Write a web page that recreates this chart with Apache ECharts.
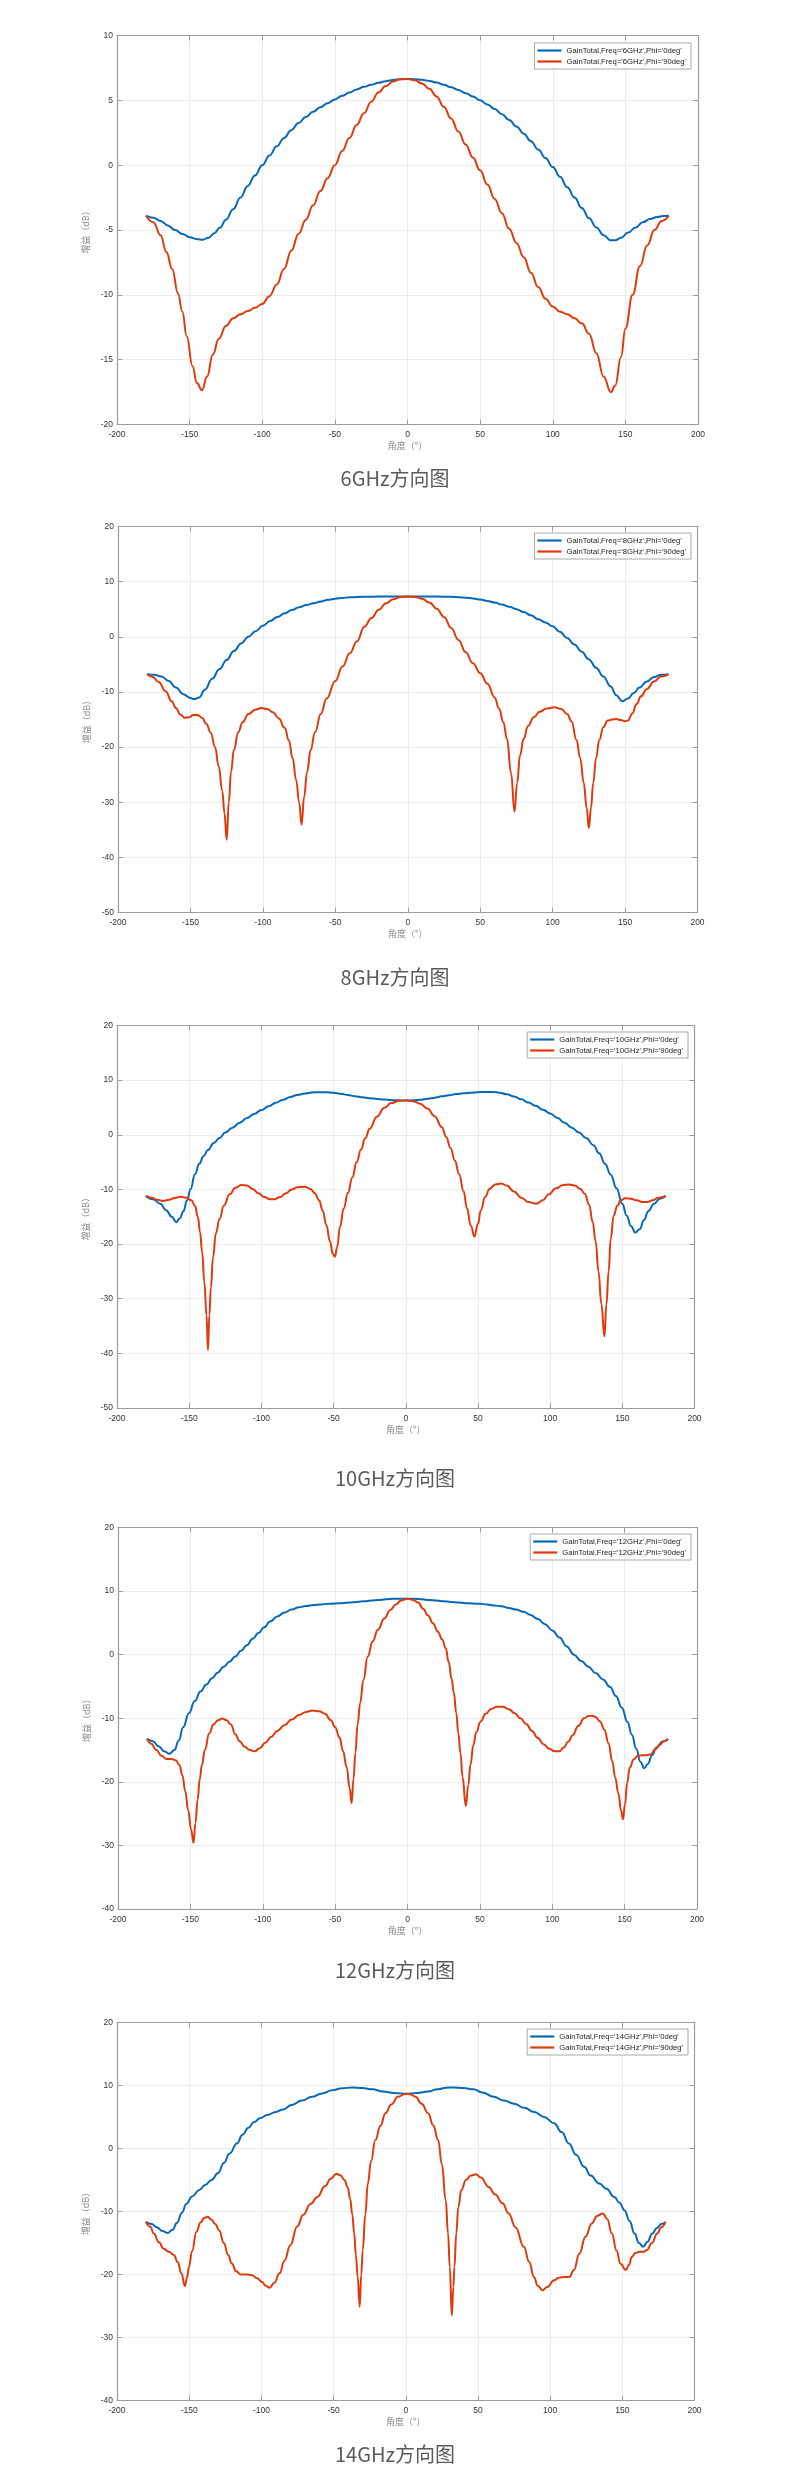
<!DOCTYPE html>
<html>
<head>
<meta charset="utf-8">
<script src="https://cdn.jsdelivr.net/npm/echarts@6/dist/echarts.min.js"></script>
<style>
  html, body { margin: 0; padding: 0; background: #fff; }
  #chart { width: 790px; height: 2478px; }
</style>
</head>
<body>
<div id="chart"></div>
<script>
// ---------------- DATA ----------------
const freqLabels = ['6GHz', '8GHz', '10GHz', '12GHz', '14GHz'];
const yMinValues = [-20, -50, -50, -40, -40];
const yMaxValues = [10, 20, 20, 20, 20];
const yStepValues = [5, 10, 10, 10, 10];
const xMin = -200, xMax = 200, xStep = 50;

// 6 GHz
const gain6_phi0 = [[-180,-3.9],[-175,-4.05],[-170,-4.3],[-165,-4.65],[-160,-5.0],[-155,-5.3],[-150,-5.55],[-145,-5.7],[-141,-5.75],[-137,-5.6],[-133,-5.25],[-129,-4.8],[-125,-4.2],[-120,-3.4],[-115,-2.5],[-110,-1.6],[-105,-0.8],[-100,0.0],[-95,0.75],[-90,1.45],[-85,2.1],[-80,2.7],[-75,3.25],[-70,3.72],[-65,4.12],[-60,4.47],[-55,4.78],[-50,5.07],[-45,5.35],[-40,5.6],[-35,5.84],[-30,6.04],[-25,6.2],[-20,6.35],[-15,6.48],[-10,6.57],[-5,6.63],[0,6.65],[5,6.63],[10,6.58],[15,6.5],[20,6.37],[25,6.2],[30,6.0],[35,5.8],[40,5.55],[45,5.3],[50,5.0],[55,4.68],[60,4.33],[65,3.93],[70,3.48],[75,2.98],[80,2.43],[85,1.85],[90,1.2],[95,0.55],[100,-0.15],[105,-0.9],[110,-1.7],[115,-2.5],[120,-3.3],[125,-4.1],[130,-4.8],[135,-5.4],[140,-5.8],[143,-5.8],[147,-5.6],[152,-5.2],[157,-4.8],[162,-4.4],[167,-4.15],[172,-4.0],[176,-3.92],[180,-3.9]];
const gain6_phi90 = [[-180,-3.9],[-175,-4.4],[-170,-5.4],[-166,-6.7],[-162,-8.0],[-158,-9.9],[-155,-11.3],[-152,-13.2],[-148,-15.5],[-145,-16.8],[-141.5,-17.35],[-138,-16.3],[-134,-14.6],[-130,-13.4],[-125,-12.4],[-120,-11.8],[-115,-11.5],[-110,-11.25],[-105,-11.0],[-100,-10.7],[-95,-10.1],[-90,-9.2],[-85,-8.0],[-80,-6.6],[-75,-5.3],[-70,-4.2],[-65,-3.1],[-60,-2.0],[-55,-1.0],[-50,0.0],[-45,1.1],[-40,2.1],[-35,3.1],[-30,4.0],[-25,4.9],[-20,5.6],[-15,6.1],[-10,6.45],[-5,6.62],[0,6.65],[5,6.55],[10,6.3],[15,5.9],[20,5.3],[25,4.5],[30,3.6],[35,2.6],[40,1.6],[45,0.6],[50,-0.4],[55,-1.5],[60,-2.6],[65,-3.7],[70,-4.9],[75,-6.0],[80,-7.1],[85,-8.3],[90,-9.4],[95,-10.3],[100,-10.9],[105,-11.3],[110,-11.5],[115,-11.8],[120,-12.2],[125,-13.0],[130,-14.5],[135,-16.3],[140,-17.5],[143,-17.0],[147,-14.8],[150,-12.6],[155,-10.0],[160,-7.8],[165,-6.2],[170,-5.0],[175,-4.3],[180,-3.9]];

// 8 GHz
const gain8_phi0 = [[-180,-6.8],[-175,-6.9],[-170,-7.2],[-165,-8.0],[-160,-9.2],[-155,-10.4],[-150,-11.1],[-147.5,-11.3],[-144,-11.0],[-140,-9.6],[-135,-7.6],[-130,-5.9],[-125,-4.2],[-120,-2.6],[-115,-1.2],[-110,0.0],[-105,1.0],[-100,2.0],[-95,2.85],[-90,3.6],[-85,4.25],[-80,4.85],[-75,5.35],[-70,5.75],[-65,6.1],[-60,6.4],[-55,6.7],[-50,6.9],[-45,7.05],[-40,7.15],[-30,7.25],[-20,7.3],[-10,7.3],[0,7.3],[10,7.3],[20,7.3],[30,7.25],[40,7.1],[45,6.95],[50,6.75],[55,6.5],[60,6.2],[65,5.85],[70,5.45],[75,5.0],[80,4.5],[85,3.9],[90,3.2],[95,2.6],[100,1.9],[105,0.9],[110,-0.2],[115,-1.4],[120,-2.7],[125,-4.1],[130,-5.6],[135,-7.2],[140,-9.0],[144,-10.6],[148,-11.7],[152,-11.2],[156,-10.2],[160,-9.2],[165,-8.1],[170,-7.3],[175,-6.9],[180,-6.8]];
const gain8_phi90 = [[-180,-6.8],[-176,-7.3],[-172,-8.2],[-167,-9.9],[-163,-11.7],[-160,-12.9],[-157,-14.1],[-154,-14.7],[-151,-14.6],[-148,-14.2],[-145,-14.2],[-142,-14.7],[-139,-15.8],[-136,-17.4],[-133,-20.0],[-130.5,-23.5],[-128,-28],[-126.5,-32],[-125,-36.8],[-123.5,-30],[-122,-24.5],[-120,-20.5],[-117,-17.3],[-114,-15.5],[-110,-14.0],[-105,-13.2],[-101,-12.9],[-97,-13.1],[-93,-13.7],[-89,-14.8],[-85,-16.5],[-82,-18.8],[-79.5,-22.0],[-77,-26],[-75,-30],[-73.3,-34.1],[-71.5,-29],[-69.5,-24.5],[-67,-20.5],[-64,-17.3],[-60,-14.0],[-56,-11.2],[-50,-8.0],[-45,-5.4],[-40,-3.0],[-35,-0.8],[-30,1.8],[-25,3.4],[-20,4.9],[-15,6.1],[-10,6.8],[-5,7.2],[0,7.3],[5,7.2],[10,6.9],[15,6.2],[20,5.1],[25,3.6],[30,1.6],[35,-0.6],[40,-2.8],[45,-4.8],[50,-6.6],[55,-8.5],[60,-11.0],[63,-13.0],[66,-15.5],[68.5,-18.5],[71.3,-24.7],[73.7,-31.7],[75.5,-26.5],[77.5,-21.5],[80,-18.5],[83,-16.2],[87,-14.6],[91,-13.6],[96,-13.0],[101,-12.8],[106,-13.1],[110,-14.0],[113,-15.3],[116.5,-18.7],[119,-22],[121.5,-26.5],[123.5,-31],[125,-34.7],[126.5,-31],[128,-26.5],[130,-22],[132.2,-18.7],[135,-16.4],[138,-15.2],[141,-15.0],[144,-14.9],[147,-15.1],[150,-15.3],[152,-15.2],[155,-13.9],[158,-12.2],[161,-10.8],[165,-9.5],[170,-8.1],[175,-7.2],[180,-6.8]];

// 10 GHz
const gain10_phi0 = [[-180,-11.2],[-175,-11.8],[-170,-12.6],[-166,-13.8],[-162,-15.0],[-159,-16.0],[-156.5,-15.3],[-154,-14.0],[-151.5,-12.0],[-149,-9.9],[-146,-7.2],[-143,-5.3],[-140,-3.9],[-137,-2.8],[-133,-1.5],[-129,-0.6],[-125,0.4],[-120,1.3],[-115,2.2],[-110,3.05],[-105,3.8],[-100,4.55],[-95,5.2],[-90,5.85],[-85,6.4],[-80,6.9],[-75,7.3],[-70,7.55],[-65,7.75],[-60,7.8],[-55,7.8],[-50,7.7],[-45,7.5],[-40,7.3],[-35,7.05],[-30,6.85],[-25,6.7],[-20,6.55],[-15,6.45],[-10,6.35],[-5,6.3],[0,6.28],[5,6.3],[10,6.4],[15,6.6],[20,6.8],[25,7.05],[30,7.25],[35,7.45],[40,7.6],[45,7.7],[50,7.8],[55,7.85],[60,7.85],[65,7.7],[70,7.4],[75,7.0],[80,6.5],[85,5.9],[90,5.3],[95,4.6],[100,3.9],[105,3.1],[110,2.2],[115,1.3],[120,0.4],[125,-0.6],[130,-1.9],[134,-3.4],[138,-5.3],[142,-7.3],[146,-9.8],[150,-12.6],[153,-14.8],[156,-16.7],[159,-17.9],[162,-17.3],[165,-15.6],[168,-14.0],[172,-12.6],[176,-11.7],[180,-11.2]];
const gain10_phi90 = [[-180,-11.2],[-176,-11.5],[-172,-11.9],[-168,-12.1],[-164,-11.9],[-160,-11.55],[-156,-11.35],[-152,-11.5],[-148.5,-12.0],[-146,-13.0],[-144,-15.0],[-142.5,-17.8],[-141,-21.5],[-139.5,-27],[-138,-33],[-137,-39.4],[-136,-33],[-135,-28],[-133.5,-22.5],[-131.5,-18.0],[-129,-15.4],[-126,-13.0],[-122,-10.9],[-118,-9.7],[-114,-9.2],[-110,-9.3],[-106,-9.9],[-102,-10.7],[-98,-11.4],[-94,-11.8],[-91,-11.8],[-87,-11.4],[-83,-10.7],[-79,-10.0],[-75,-9.6],[-70,-9.5],[-66,-9.9],[-63,-10.7],[-60,-12.0],[-57.5,-13.9],[-55,-16.5],[-52.5,-19.5],[-50.5,-21.8],[-49,-22.3],[-47.5,-20.5],[-45.5,-16.8],[-43,-13.5],[-40,-10.6],[-37,-7.8],[-34,-5.0],[-31,-2.7],[-28,-0.6],[-25,1.1],[-20,3.3],[-15,4.9],[-10,5.8],[-5,6.2],[0,6.3],[5,6.15],[10,5.7],[15,4.8],[20,3.4],[25,1.4],[28,-0.4],[31,-2.4],[34,-4.7],[37,-7.2],[40,-10.3],[42.5,-13.5],[45,-16.6],[47.6,-18.6],[50,-16.3],[52,-13.8],[55,-11.4],[58,-9.9],[62,-9.1],[66,-8.9],[70,-9.3],[75,-10.4],[80,-11.5],[85,-12.3],[90.5,-12.6],[95,-12.0],[99,-10.9],[104,-9.8],[109,-9.2],[113,-9.1],[117,-9.3],[121,-9.9],[124,-10.8],[127,-12.8],[129.5,-16],[131.5,-19.5],[133.5,-25],[135.5,-31],[137.6,-36.9],[139,-31],[140.5,-25],[142,-19],[144,-14.8],[146.5,-13.0],[149,-12.0],[152,-11.6],[156,-11.7],[160,-12.0],[164,-12.3],[167.5,-12.3],[171,-12.0],[175,-11.5],[180,-11.2]];

// 12 GHz
const gain12_phi0 = [[-180,-13.25],[-176,-13.6],[-172,-14.4],[-168,-15.2],[-164.5,-15.6],[-161,-15.0],[-158,-13.5],[-155,-11.4],[-151,-9.2],[-147,-7.3],[-143,-5.8],[-139,-4.7],[-135,-3.7],[-131,-2.8],[-127,-1.9],[-123,-1.1],[-119,-0.3],[-115,0.6],[-111,1.5],[-107,2.5],[-103,3.4],[-99,4.3],[-95,5.2],[-90,6.0],[-85,6.65],[-80,7.1],[-75,7.45],[-70,7.65],[-65,7.8],[-60,7.9],[-55,8.0],[-50,8.05],[-45,8.1],[-40,8.2],[-35,8.3],[-30,8.4],[-25,8.5],[-20,8.6],[-15,8.7],[-10,8.78],[-5,8.8],[0,8.8],[5,8.78],[10,8.7],[15,8.6],[20,8.5],[25,8.4],[30,8.3],[35,8.2],[40,8.1],[45,8.05],[50,8.0],[55,7.9],[60,7.75],[65,7.6],[70,7.35],[75,7.1],[80,6.75],[85,6.25],[90,5.6],[95,4.8],[100,3.8],[105,2.7],[110,1.3],[115,0.0],[120,-1.0],[125,-1.9],[130,-2.9],[135,-3.9],[140,-5.1],[144,-6.5],[148,-8.3],[152,-10.6],[155,-12.6],[158,-14.8],[161,-16.9],[163.5,-17.85],[166,-17.2],[169,-15.8],[172,-14.6],[176,-13.7],[180,-13.25]];
const gain12_phi90 = [[-180,-13.25],[-177,-14.0],[-173.5,-15.0],[-170,-15.9],[-166.5,-16.4],[-163,-16.4],[-160,-16.6],[-157.5,-17.4],[-155.5,-19.0],[-153.5,-21.5],[-151.5,-24.5],[-149.5,-27.5],[-147.8,-29.6],[-146.5,-26.5],[-145,-22.8],[-143.5,-19.5],[-142,-17.3],[-140,-15.0],[-137,-12.4],[-134,-11.0],[-131,-10.3],[-128,-10.05],[-125,-10.3],[-122,-11.0],[-119,-12.5],[-116,-13.6],[-112.5,-14.5],[-109,-15.0],[-105.7,-15.2],[-102,-14.7],[-98,-13.8],[-94,-12.9],[-90,-12.0],[-85,-11.1],[-80,-10.2],[-75,-9.5],[-70,-9.0],[-65.7,-8.8],[-61,-8.9],[-57,-9.3],[-53,-10.3],[-50,-11.4],[-47,-13.0],[-44.5,-15.2],[-42,-17.7],[-40,-21.0],[-38.6,-23.35],[-37.3,-19.5],[-36,-15.5],[-34.5,-11],[-32.7,-7.6],[-30.5,-4.0],[-27.5,-0.3],[-24,2.1],[-20.5,3.9],[-16,5.7],[-12,7.0],[-8,7.9],[-4.5,8.5],[0,8.8],[4,8.6],[7.3,8.2],[11,7.2],[14,6.2],[17.7,4.9],[21,3.6],[24,2.4],[26.4,1.0],[28.5,-1.2],[30.5,-3.8],[32,-6.0],[33.7,-9.2],[35.1,-12.35],[36.6,-15.5],[38,-19.2],[40.3,-23.8],[42,-20.5],[43.5,-17.3],[45.5,-14.2],[47.5,-12.2],[50.5,-10.5],[54,-9.3],[58,-8.5],[62,-8.2],[66,-8.2],[70,-8.6],[74,-9.2],[78,-10.0],[82,-10.9],[86,-12.0],[90,-13.1],[94,-14.1],[98,-14.8],[101.5,-15.2],[105,-15.2],[108,-14.6],[111,-13.7],[114,-12.7],[118,-11.2],[122,-10.0],[125,-9.65],[127.5,-9.6],[130,-9.8],[133,-10.5],[136,-11.8],[139,-14.0],[141.5,-16.8],[143.5,-19.3],[145.7,-21.8],[147.5,-24.5],[148.9,-25.9],[150.3,-23.5],[151.7,-20.2],[153.5,-17.8],[156.2,-16.5],[159,-15.95],[162,-15.8],[165,-15.8],[168,-15.7],[171,-14.9],[174.3,-14.2],[177,-13.6],[180,-13.25]];

// 14 GHz
const gain14_phi0 = [[-180,-11.65],[-176,-12.0],[-172.5,-12.5],[-168.5,-13.1],[-165,-13.4],[-161.5,-12.9],[-158.5,-11.8],[-155,-10.2],[-152,-8.8],[-148,-7.6],[-143,-6.6],[-139,-5.8],[-134.5,-5.0],[-130,-3.9],[-126,-2.3],[-122,-0.8],[-117,0.8],[-113,2.2],[-109,3.3],[-105,4.2],[-101,4.8],[-96,5.3],[-90,5.8],[-85,6.2],[-79,6.9],[-72,7.6],[-65,8.2],[-58,8.75],[-51,9.25],[-44,9.55],[-37,9.7],[-30,9.6],[-23,9.4],[-16,9.05],[-8,8.8],[0,8.7],[8,8.8],[15.5,9.05],[22,9.4],[28,9.65],[33,9.7],[40,9.6],[47,9.4],[53,8.9],[61,8.2],[68,7.6],[75,7.1],[82,6.45],[89,5.8],[96,5.0],[102.7,4.0],[108,2.6],[113,0.8],[118,-1.0],[123.6,-2.9],[128,-4.3],[134,-5.55],[139,-6.4],[144.5,-7.7],[148,-8.6],[151.5,-9.8],[155,-11.5],[158.5,-13.5],[161.5,-15.0],[164.4,-15.6],[167.5,-14.8],[170.7,-13.5],[174,-12.6],[177,-12.0],[180,-11.65]];
const gain14_phi90 = [[-180,-11.65],[-177,-12.4],[-174.5,-13.5],[-171,-14.9],[-167.6,-15.9],[-164,-16.4],[-160.6,-16.9],[-158,-18.0],[-155.4,-19.8],[-153,-21.85],[-151.5,-20.5],[-150.2,-18.8],[-148,-16.3],[-145,-13.2],[-142,-11.7],[-139.5,-11.0],[-137.2,-10.85],[-134.5,-11.3],[-132,-12.0],[-129.2,-13.0],[-126,-15.0],[-123,-16.9],[-120.5,-18.25],[-117.5,-19.5],[-114.2,-20.0],[-110,-20.0],[-106.5,-20.1],[-103,-20.6],[-99.5,-21.2],[-97,-21.8],[-94.3,-22.1],[-91,-21.3],[-87.4,-19.8],[-84,-17.8],[-80,-15.4],[-75.2,-12.4],[-71,-10.5],[-66,-8.8],[-61.2,-7.7],[-56,-6.0],[-52,-4.8],[-48,-4.0],[-45,-4.3],[-42.5,-5.0],[-40.3,-6.1],[-38.5,-8.0],[-37,-10.5],[-35.7,-13.5],[-34.5,-17.0],[-33.3,-20.4],[-31.9,-25.1],[-30.8,-20.0],[-29.8,-16.1],[-28,-10.5],[-26.3,-5.6],[-24,-2.0],[-21.1,1.3],[-17.5,3.6],[-14.1,5.6],[-10,7.0],[-5.4,8.2],[0,8.7],[3,8.6],[6.8,8.2],[11,7.1],[15.5,5.6],[19,3.7],[22.5,1.3],[25,-2.5],[27.7,-8.2],[29.3,-13.5],[30.5,-18.8],[31.9,-26.5],[33,-22],[33.7,-18.8],[35,-13.5],[36.4,-9.3],[38.5,-6.6],[41.7,-5.0],[45,-4.3],[48.6,-4.1],[52,-4.6],[57.4,-6.1],[62,-7.3],[67,-8.7],[71.3,-10.3],[76,-12.5],[81.8,-15.6],[85.5,-18.0],[88.8,-20.4],[91.5,-21.8],[94.7,-22.5],[98,-22.0],[102.7,-20.9],[106,-20.5],[110,-20.4],[113.2,-20.4],[116.5,-19.3],[120.2,-16.7],[124.5,-14.0],[128.9,-11.9],[132.5,-10.7],[136.6,-10.3],[139.5,-11.2],[142.8,-13.5],[146,-16.2],[148.7,-18.3],[152.5,-19.3],[154.5,-18.5],[156.7,-17.2],[159,-16.6],[161.9,-16.4],[164.5,-16.4],[167.2,-16.1],[170.5,-15.0],[174.2,-13.5],[177,-12.5],[180,-11.65]];

const phi0Series = [gain6_phi0, gain8_phi0, gain10_phi0, gain12_phi0, gain14_phi0];
const phi90Series = [gain6_phi90, gain8_phi90, gain10_phi90, gain12_phi90, gain14_phi90];

// ---------------- LAYOUT ----------------
const gridBoxes = [
  { left: 117, top: 35.5, width: 581, height: 389 },
  { left: 118, top: 526.5, width: 579.5, height: 386 },
  { left: 117, top: 1025.5, width: 577.5, height: 382.5 },
  { left: 118, top: 1527.5, width: 579, height: 381.5 },
  { left: 117, top: 2022.5, width: 577.5, height: 378 }
];
const legendPos = [
  { right: 99, top: 43 },
  { right: 99, top: 533 },
  { right: 102, top: 1032 },
  { right: 99, top: 1534 },
  { right: 102, top: 2029 }
];
const titleTops = [466, 965, 1466, 1958, 2442];

const COLOR_BLUE = '#0868B8';
const COLOR_RED = '#E03A0C';
const AXIS_COLOR = '#9c9c9c';
const GRID_COLOR = '#ececec';
const NUM_FONT = "'Liberation Sans', Arial, Helvetica, sans-serif";
const CJK_FONT = "'Noto Sans CJK SC', 'Noto Sans', sans-serif";

const grid = [], xAxis = [], yAxis = [], series = [], legend = [], title = [];

freqLabels.forEach((f, i) => {
  grid.push(Object.assign({ containLabel: false }, gridBoxes[i]));
  const name0 = "GainTotal,Freq='" + f + "',Phi='0deg'";
  const name90 = "GainTotal,Freq='" + f + "',Phi='90deg'";

  const baseAxisLine = { show: true, onZero: false, lineStyle: { color: AXIS_COLOR, width: 1.2 } };
  const tick = { show: true, inside: true, length: 5, lineStyle: { color: AXIS_COLOR, width: 1 } };

  xAxis.push({
    type: 'value', gridIndex: i, position: 'bottom',
    min: xMin, max: xMax, interval: xStep,
    axisLine: baseAxisLine, axisTick: tick,
    axisLabel: { fontSize: 8.5, color: '#333', margin: 6, fontFamily: NUM_FONT },
    splitLine: { show: true, lineStyle: { color: GRID_COLOR, width: 1 } },
    name: '角度（°）', nameLocation: 'middle', nameGap: 17,
    nameTextStyle: { fontSize: 9, color: '#8a8a8a', fontFamily: CJK_FONT }
  });
  xAxis.push({
    type: 'value', gridIndex: i, position: 'top',
    min: xMin, max: xMax, interval: xStep,
    axisLine: baseAxisLine, axisTick: tick,
    axisLabel: { show: false }, splitLine: { show: false }
  });
  yAxis.push({
    type: 'value', gridIndex: i, position: 'left',
    min: yMinValues[i], max: yMaxValues[i], interval: yStepValues[i],
    axisLine: baseAxisLine, axisTick: tick,
    axisLabel: { fontSize: 8.5, color: '#333', margin: 4, fontFamily: NUM_FONT },
    splitLine: { show: true, lineStyle: { color: GRID_COLOR, width: 1 } },
    name: '增益（dB）', nameLocation: 'middle', nameGap: 19, nameRotate: 90,
    nameTextStyle: { fontSize: 9, color: '#8a8a8a', fontFamily: CJK_FONT }
  });
  yAxis.push({
    type: 'value', gridIndex: i, position: 'right',
    min: yMinValues[i], max: yMaxValues[i], interval: yStepValues[i],
    axisLine: baseAxisLine, axisTick: tick,
    axisLabel: { show: false }, splitLine: { show: false }
  });

  const lineCommon = {
    type: 'line', xAxisIndex: 2 * i, yAxisIndex: 2 * i,
    symbol: 'none', showSymbol: false, smooth: 0.45, smoothMonotone: 'x',
    animation: false, clip: true
  };
  series.push(Object.assign({}, lineCommon, {
    name: name0, data: phi0Series[i],
    lineStyle: { color: COLOR_BLUE, width: 2 }, itemStyle: { color: COLOR_BLUE }
  }));
  series.push(Object.assign({}, lineCommon, {
    name: name90, data: phi90Series[i],
    lineStyle: { color: COLOR_RED, width: 2 }, itemStyle: { color: COLOR_RED }
  }));

  legend.push({
    data: [name0, name90],
    right: legendPos[i].right, top: legendPos[i].top,
    orient: 'vertical', align: 'left',
    icon: 'rect', itemWidth: 24, itemHeight: 2.2, itemGap: 2,
    padding: [3, 5, 3, 3],
    borderColor: '#a8a8a8', borderWidth: 1, backgroundColor: '#fff',
    selectedMode: false,
    textStyle: { fontSize: 7.7, color: '#222', fontFamily: NUM_FONT, lineHeight: 9 }
  });

  title.push({
    text: f + '方向图',
    left: 'center', top: titleTops[i], padding: 0,
    textStyle: { fontSize: 20, fontWeight: 'normal', color: '#5a5a5a', fontFamily: CJK_FONT, lineHeight: 24 }
  });
});

const chart = echarts.init(document.getElementById('chart'), null, { renderer: 'canvas' });
chart.setOption({
  backgroundColor: '#ffffff',
  animation: false,
  title: title,
  legend: legend,
  grid: grid,
  xAxis: xAxis,
  yAxis: yAxis,
  series: series
});
</script>
</body>
</html>
